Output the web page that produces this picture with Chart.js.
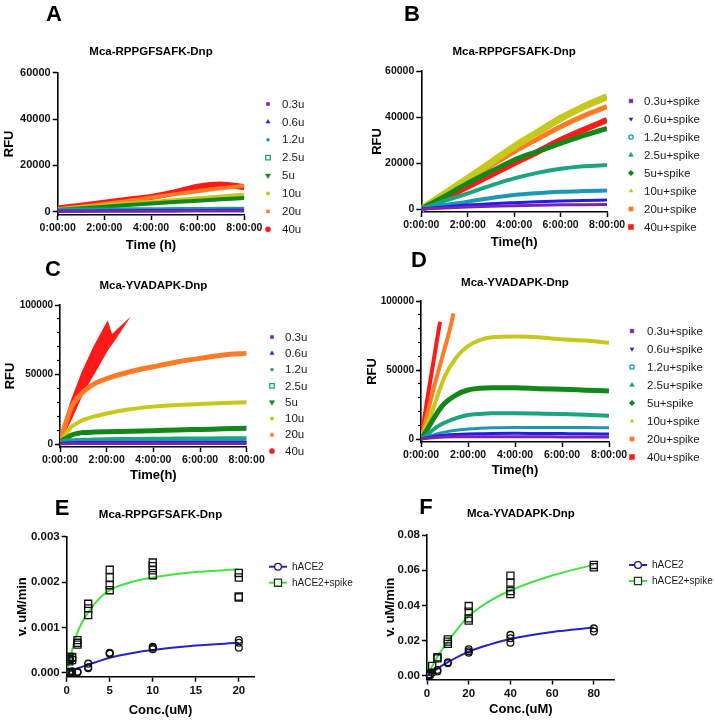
<!DOCTYPE html>
<html>
<head>
<meta charset="utf-8">
<script src="https://cdn.jsdelivr.net/npm/chart.js@4.4.1/dist/chart.umd.min.js"></script>
<style>
  html, body { margin: 0; padding: 0; background: #fff; }
  #fig { position: relative; width: 714px; height: 720px; overflow: hidden; font-family: "Liberation Sans", Arial, sans-serif; }
  #fig canvas { position: absolute; }
  .letter { position: absolute; font-weight: bold; font-size: 22px; line-height: 1; transform: translate(-50%, -50%); color: #000; }
</style>
</head>
<body>
<div id="fig">
  <canvas id="chartA" width="357" height="262" style="left:0;top:0"></canvas>
  <canvas id="chartB" width="357" height="262" style="left:357px;top:0"></canvas>
  <canvas id="chartC" width="357" height="250" style="left:0;top:240px"></canvas>
  <canvas id="chartD" width="357" height="250" style="left:357px;top:240px"></canvas>
  <canvas id="chartE" width="357" height="240" style="left:0;top:480px"></canvas>
  <canvas id="chartF" width="357" height="240" style="left:357px;top:480px"></canvas>
  <div class="letter" style="left:54px;top:14px">A</div>
  <div class="letter" style="left:412px;top:14px">B</div>
  <div class="letter" style="left:53px;top:269px">C</div>
  <div class="letter" style="left:419px;top:260px">D</div>
  <div class="letter" style="left:62px;top:508px">E</div>
  <div class="letter" style="left:426px;top:507px">F</div>
</div>
<script>
// ── Labels & ticks ──
const doseLabels  = ['0.3u', '0.6u', '1.2u', '2.5u', '5u', '10u', '20u', '40u'];
const spikeLabels = ['0.3u+spike', '0.6u+spike', '1.2u+spike', '2.5u+spike', '5u+spike', '10u+spike', '20u+spike', '40u+spike'];
const hourTicks   = [0, 2, 4, 6, 8];
const rfuTicksAB  = [0, 20000, 40000, 60000];
const rfuTicksCD  = [0, 50000, 100000];
const rfuMinorCD  = [0, 10000, 20000, 30000, 40000, 50000, 60000, 70000, 80000, 90000, 100000];
const concTicksE  = [0, 5, 10, 15, 20];
const rateTicksE  = [0, 0.001, 0.002, 0.003];
const concTicksF  = [0, 20, 40, 60, 80];
const rateTicksF  = [0, 0.02, 0.04, 0.06, 0.08];

// ── Panel A: Mca-RPPGFSAFK-Dnp, hACE2 alone (RFU vs hours) ──
const hoursAB = [0, 1, 2, 3, 4, 5, 6, 7, 8];
const rfuA03 = [100, 150, 200, 200, 250, 250, 300, 300, 300];
const rfuA06 = [300, 350, 400, 450, 500, 500, 550, 600, 600];
const rfuA12 = [600, 650, 700, 750, 800, 850, 900, 950, 1000];
const rfuA25 = [900, 950, 1000, 1050, 1100, 1150, 1200, 1250, 1300];
const rfuA5  = [800, 1500, 2200, 2900, 3600, 4200, 4800, 5400, 5900];
const rfuA10 = [900, 1700, 2500, 3300, 4000, 4800, 5600, 6400, 7100];
const rfuA20 = [1100, 2200, 3400, 4700, 6100, 7500, 8800, 10100, 11200];
const rfuA40 = [1400, 2600, 3900, 5200, 6400, 8300, 10800, 11800, 10600];

// ── Panel B: Mca-RPPGFSAFK-Dnp, hACE2 + spike ──
const rfuB03 = [0, 450, 870, 1150, 1450, 1650, 1800, 1900, 2000];
const rfuB06 = [0, 900, 1700, 2300, 2750, 3150, 3450, 3700, 3900];
const rfuB12 = [0, 1700, 3200, 4800, 6100, 6900, 7500, 7800, 8000];
const rfuB25 = [0, 3500, 6800, 10200, 13300, 15700, 17500, 18600, 19100];
const rfuB5  = [0, 5500, 11200, 16300, 21300, 25000, 28500, 32000, 35000];
const rfuB10 = [0, 6600, 13300, 20200, 27100, 33300, 39400, 44500, 48800];
const rfuB20 = [0, 6200, 12600, 18800, 24900, 30400, 35800, 40500, 44500];
const rfuB40 = [0, 4800, 9700, 14800, 19900, 24800, 30000, 34500, 38700];

// ── Panel C: Mca-YVADAPK-Dnp, hACE2 alone ──
const hoursC = [0, 0.25, 0.5, 0.75, 1, 1.5, 2, 3, 4, 5, 6, 7, 8];
const rfuC03 = [200, 250, 300, 300, 300, 300, 300, 300, 300, 300, 300, 300, 300];
const rfuC06 = [500, 800, 900, 1000, 1000, 1000, 1000, 1000, 1000, 1000, 1000, 1000, 1000];
const rfuC12 = [800, 1300, 1600, 1800, 1900, 2000, 2000, 2000, 2000, 2000, 2000, 2000, 2000];
const rfuC25 = [1500, 2300, 2700, 2900, 3000, 3200, 3400, 3600, 3800, 3900, 4000, 4100, 4100];
const rfuC5  = [1500, 4000, 6500, 7600, 8200, 8600, 8900, 9200, 9600, 10100, 10500, 10900, 11300];
const rfuC10 = [1500, 7000, 12500, 15200, 17300, 20000, 22000, 25000, 26900, 28000, 28800, 29500, 30000];
const rfuC20 = [2000, 15000, 27000, 33000, 37600, 43600, 47000, 52000, 55600, 59000, 61600, 64000, 65200];
// 40u spreads into a wedge: outline read round the red cloud
const hoursC40 = [0, 0.5, 1, 1.5, 2.03, 2.2, 2.69, 2.5, 2.3, 2, 1.5, 1, 0.5, 0];
const rfuC40   = [2500, 30000, 52000, 70000, 86300, 77200, 84900, 80000, 75000, 68000, 53000, 39000, 20000, 2500];

// ── Panel D: Mca-YVADAPK-Dnp, hACE2 + spike ──
const hoursD = [0, 0.25, 0.5, 0.75, 1, 1.5, 2, 2.5, 3, 4, 5, 6, 7, 8];
const rfuD03 = [0, 500, 900, 1200, 1500, 1700, 1700, 1700, 1700, 1600, 1600, 1500, 1500, 1450];
const rfuD06 = [0, 900, 1700, 2300, 2800, 3300, 3600, 3800, 4000, 4100, 4000, 3900, 3800, 3600];
const rfuD12 = [0, 1500, 2800, 4000, 5000, 6400, 7200, 7800, 8200, 8400, 8400, 8300, 8300, 8200];
const rfuD25 = [0, 3000, 6500, 9500, 11800, 15200, 17400, 18200, 18600, 18600, 18400, 18100, 17500, 16900];
const rfuD5  = [0, 6500, 13800, 20500, 25800, 32000, 35500, 36700, 37200, 37200, 36500, 36000, 35400, 34800];
const rfuD10 = [0, 10500, 21000, 33500, 45000, 59000, 67400, 71700, 73700, 74200, 73700, 72200, 71300, 69800];
const hoursD20 = [0, 0.25, 0.5, 0.75, 1, 1.25, 1.38];
const rfuD20   = [0, 17000, 34000, 50000, 65000, 81000, 91000];
const hoursD40 = [0, 0.25, 0.5, 0.81];
const rfuD40   = [0, 27000, 53000, 85000];

// ── Panel E: Mca-RPPGFSAFK-Dnp kinetics (v vs conc) ──
const concEh = [0.3125, 0.3125, 0.3125, 0.625, 0.625, 0.625, 1.25, 1.25, 1.25, 2.5, 2.5, 2.5, 5, 5, 5, 10, 10, 10, 20, 20, 20];
const rateEh = [0, 0.00002, 0.00001, 0.00001, 0.00003, 0.00002, 0.00001, 0.00002, 0.00001, 0.0002, 0.0001, 0.00012, 0.00043, 0.00042, 0.00044, 0.00057, 0.00055, 0.00052, 0.00072, 0.00066, 0.00055];
const concEs = [0.3125, 0.3125, 0.3125, 0.625, 0.625, 0.625, 1.25, 1.25, 1.25, 2.5, 2.5, 2.5, 5, 5, 5, 5, 10, 10, 10, 10, 20, 20, 20, 20];
const rateEs = [0.00035, 0.0003, 0.00025, 0.00035, 0.00033, 0.00028, 0.00072, 0.00066, 0.00062, 0.00152, 0.00142, 0.00127, 0.00227, 0.0021, 0.00193, 0.00182, 0.00243, 0.00235, 0.00226, 0.00215, 0.0022, 0.0021, 0.00168, 0.00166];
const fitConcE = [0, 0.5, 1, 1.5, 2.5, 3.5, 5, 7.5, 10, 15, 20];
const fitEh    = [0, 0.00004, 0.00008, 0.00011, 0.00018, 0.00024, 0.00033, 0.00043, 0.0005, 0.0006, 0.00066];
const fitEs    = [0, 0.0004, 0.00075, 0.001, 0.00133, 0.00158, 0.00182, 0.002, 0.0021, 0.00222, 0.00228];

// ── Panel F: Mca-YVADAPK-Dnp kinetics ──
const concFh = [0.625, 1.25, 2.5, 5, 5, 10, 10, 20, 20, 20, 40, 40, 40, 80, 80];
const rateFh = [0.0002, 0.0006, 0.0019, 0.0034, 0.0025, 0.0078, 0.0072, 0.0151, 0.0132, 0.014, 0.0233, 0.0214, 0.0189, 0.027, 0.0252];
const concFs = [0.625, 1.25, 2.5, 5, 5, 10, 10, 10, 20, 20, 20, 20, 40, 40, 40, 40, 80, 80];
const rateFs = [0.0003, 0.0011, 0.0057, 0.0106, 0.01, 0.0208, 0.0195, 0.0182, 0.0397, 0.0365, 0.0327, 0.0314, 0.0569, 0.053, 0.0482, 0.0465, 0.063, 0.0617];
const fitConcF = [0, 5, 10, 20, 30, 40, 60, 80];
const fitFh    = [0, 0.0042, 0.0078, 0.0138, 0.0178, 0.021, 0.025, 0.0275];
const fitFs    = [0, 0.011, 0.0195, 0.034, 0.0425, 0.0485, 0.057, 0.0632];

// ── Styles ──
const FONT = '"Liberation Sans", Arial, Helvetica, sans-serif';
const TITLE_SIZE = 11.5, AXIS_SIZE = 13;
const doseColors = ['#7b22b8', '#1f1fe6', '#1c97b4', '#1aa57f', '#14871b', '#c6c81c', '#ff7a26', '#ff1a1a'];
const widthsA  = [3, 3, 3, 4, 4, 5, 4, 6];
const widthsB  = [3, 3, 4, 4, 5, 7, 5, 6];
const widthsCD = [3, 3, 3, 4, 5, 4, 5, 3];
const markAC = [
  { style: 'rect', r: 2.2, fill: true },
  { style: 'triangle', r: 2.4, fill: true },
  { style: 'circle', r: 1.5, fill: true },
  { style: 'rect', r: 3.2, fill: false },
  { style: 'triangle', r: 3, rot: 180, fill: true },
  { style: 'circle', r: 1.8, fill: true },
  { style: 'rect', r: 2.2, fill: true },
  { style: 'circle', r: 2.6, fill: true },
];
const markBD = [
  { style: 'rect', r: 2.6, fill: true },
  { style: 'triangle', r: 2.2, rot: 180, fill: true },
  { style: 'circle', r: 2.2, fill: false },
  { style: 'triangle', r: 2.8, fill: true },
  { style: 'rectRot', r: 2.8, fill: true },
  { style: 'triangle', r: 2.2, fill: true },
  { style: 'rect', r: 3, fill: true },
  { style: 'rect', r: 3.6, fill: true },
];

// ── Legend drawn at the right of each panel ──
const sideLegend = {
  id: 'sideLegend',
  afterDraw(chart, args, o) {
    const ctx = chart.ctx;
    ctx.save();
    ctx.font = o.size + 'px ' + FONT;
    ctx.textBaseline = 'middle';
    ctx.textAlign = 'left';
    o.items.forEach((it, i) => {
      const y = o.y + i * o.gap;
      if (it.line) {
        ctx.strokeStyle = it.line;
        ctx.lineWidth = 2;
        ctx.beginPath(); ctx.moveTo(o.x - 9, y); ctx.lineTo(o.x + 9, y); ctx.stroke();
      }
      ctx.fillStyle = it.fill;
      ctx.strokeStyle = it.stroke;
      ctx.lineWidth = it.bw;
      Chart.helpers.drawPoint(ctx, { pointStyle: it.style, radius: it.r, rotation: it.rot || 0, borderWidth: it.bw }, o.x, y);
      ctx.fillStyle = '#1a1a1a';
      ctx.fillText(it.label, o.tx, y + 0.5);
    });
    ctx.restore();
  }
};

function doseItems(labels, marks) {
  return labels.map((label, i) => ({
    label, style: marks[i].style, r: marks[i].r, rot: marks[i].rot || 0,
    fill: marks[i].fill ? doseColors[i] : '#fff', stroke: doseColors[i], bw: marks[i].fill ? 0.5 : 1.3,
  }));
}

function trace(label, hours, rfu, i, width) {
  return {
    label, data: hours.map((h, k) => ({ x: h, y: rfu[k] })),
    borderColor: doseColors[i], backgroundColor: doseColors[i], borderWidth: width,
    pointRadius: 0, cubicInterpolationMode: 'monotone', fill: false, yAxisID: 'y',
  };
}

function pts(xs, ys) { return xs.map((x, k) => ({ x, y: ys[k] })); }

const hourFmt = v => v + ':00:00';

// ── Generic panel builder ──
function makeChart(id, geo, sc, datasets, legend) {
  const cv = geo.cv, area = geo.area;
  const tLH = TITLE_SIZE * 1.2, aLH = AXIS_SIZE * 1.2;
  const scales = {
    x: {
      type: 'linear', min: sc.xMin, max: sc.xMax,
      afterFit: s => { s.height = geo.xTitleY + aLH / 2 - area.b; },
      afterBuildTicks: s => { s.ticks = sc.xTicks.map(v => ({ value: v })); },
      ticks: { callback: sc.xFmt, font: { family: FONT, size: sc.tickX, weight: 'bold' }, color: '#111', padding: 2, maxRotation: 0, autoSkip: false },
      grid: { drawOnChartArea: false, tickLength: 5, color: '#000', tickWidth: 1.5 },
      border: { color: '#000', width: 1.6 },
      title: { display: true, text: sc.xTitle, color: '#000', font: { family: FONT, size: AXIS_SIZE, weight: 'bold' }, padding: { top: 0, bottom: 0 } },
    },
    y: {
      type: 'linear', min: sc.yMin, max: sc.yMax, weight: 1,
      afterFit: s => { s.width = area.l - cv.x; },
      afterBuildTicks: s => { s.ticks = sc.yTicks.map(v => ({ value: v })); },
      ticks: { callback: sc.yFmt, font: { family: FONT, size: sc.tickY, weight: 'bold' }, color: '#111', padding: 2 },
      grid: { drawOnChartArea: false, tickLength: 5, color: '#000', tickWidth: 1.5 },
      border: { color: '#000', width: 1.6 },
      title: { display: true, text: sc.yTitle, color: '#000', font: { family: FONT, size: AXIS_SIZE, weight: 'bold' }, padding: { top: geo.yTitleX - cv.x - aLH / 2, bottom: 0 } },
    },
  };
  if (sc.yMinor) {
    scales.yMinor = {
      type: 'linear', position: 'left', min: sc.yMin, max: sc.yMax, weight: 0,
      afterFit: s => { s.width = 0; },
      afterBuildTicks: s => { s.ticks = sc.yMinor.map(v => ({ value: v })); },
      ticks: { display: false },
      grid: { drawOnChartArea: false, tickLength: 3, color: '#000', tickWidth: 1.2 },
      border: { display: false },
    };
  }
  return new Chart(document.getElementById(id), {
    type: 'line',
    data: { datasets },
    plugins: [sideLegend],
    options: {
      responsive: false,
      animation: false,
      devicePixelRatio: 1,
      layout: { padding: { left: 0, top: 0, right: cv.x + cv.w - area.r, bottom: cv.y + cv.h - (geo.xTitleY + aLH / 2) } },
      scales,
      plugins: {
        legend: { display: false },
        tooltip: { enabled: false },
        title: {
          display: true, text: sc.title, fullSize: false, color: '#000',
          font: { family: FONT, size: TITLE_SIZE, weight: 'bold' },
          padding: { top: geo.titleY - cv.y - tLH / 2, bottom: area.t - geo.titleY - tLH / 2 },
        },
        sideLegend: {
          x: legend.x - cv.x, tx: legend.tx - cv.x, y: legend.y - cv.y, gap: legend.gap,
          size: legend.size || 11.5, items: legend.items,
        },
      },
    },
  });
}

// ── A ──
makeChart('chartA',
  { cv: { x: 0, y: 0, w: 357, h: 262 }, area: { l: 57.7, r: 244.3, t: 72.7, b: 215 }, titleY: 52, yTitleX: 9, xTitleY: 245 },
  { title: 'Mca-RPPGFSAFK-Dnp', xTitle: 'Time (h)', yTitle: 'RFU', xMin: 0, xMax: 8, yMin: -1400, yMax: 60000,
    xTicks: hourTicks, yTicks: rfuTicksAB, xFmt: hourFmt, yFmt: v => v, tickX: 10.5, tickY: 11 },
  [rfuA03, rfuA06, rfuA12, rfuA25, rfuA5, rfuA10, rfuA20, rfuA40].map((s, i) => trace(doseLabels[i], hoursAB, s, i, widthsA[i])),
  { x: 268, tx: 282, y: 104, gap: 17.9, items: doseItems(doseLabels, markAC) });

// ── B ──
makeChart('chartB',
  { cv: { x: 357, y: 0, w: 357, h: 262 }, area: { l: 421.3, r: 607, t: 71, b: 212 }, titleY: 52, yTitleX: 377, xTitleY: 242 },
  { title: 'Mca-RPPGFSAFK-Dnp', xTitle: 'Time(h)', yTitle: 'RFU', xMin: 0, xMax: 8, yMin: -1300, yMax: 60000,
    xTicks: hourTicks, yTicks: rfuTicksAB, xFmt: hourFmt, yFmt: v => v, tickX: 10.5, tickY: 10.5 },
  [rfuB03, rfuB06, rfuB12, rfuB25, rfuB5, rfuB10, rfuB20, rfuB40].map((s, i) => trace(spikeLabels[i], hoursAB, s, i, widthsB[i])),
  { x: 631, tx: 644, y: 101, gap: 18, items: doseItems(spikeLabels, markBD) });

// ── C ──
const dsC = [rfuC03, rfuC06, rfuC12, rfuC25, rfuC5, rfuC10, rfuC20].map((s, i) => trace(doseLabels[i], hoursC, s, i, widthsCD[i]));
dsC.push({
  label: doseLabels[7], data: pts(hoursC40, rfuC40), borderColor: doseColors[7], backgroundColor: doseColors[7],
  borderWidth: widthsCD[7], pointRadius: 0, tension: 0, fill: 'shape', yAxisID: 'y',
});
makeChart('chartC',
  { cv: { x: 0, y: 240, w: 357, h: 250 }, area: { l: 60, r: 246.7, t: 305, b: 447 }, titleY: 285.7, yTitleX: 10, xTitleY: 475 },
  { title: 'Mca-YVADAPK-Dnp', xTitle: 'Time(h)', yTitle: 'RFU', xMin: 0, xMax: 8, yMin: -2150, yMax: 100000,
    xTicks: hourTicks, yTicks: rfuTicksCD, yMinor: rfuMinorCD, xFmt: hourFmt, yFmt: v => v, tickX: 10.5, tickY: 10 },
  dsC,
  { x: 272, tx: 285, y: 337, gap: 16.3, items: doseItems(doseLabels, markAC) });

// ── D ──
const dsD = [rfuD03, rfuD06, rfuD12, rfuD25, rfuD5, rfuD10].map((s, i) => trace(spikeLabels[i], hoursD, s, i, widthsCD[i]));
dsD.push(trace(spikeLabels[6], hoursD20, rfuD20, 6, 4));
dsD.push(trace(spikeLabels[7], hoursD40, rfuD40, 7, 4));
makeChart('chartD',
  { cv: { x: 357, y: 240, w: 357, h: 250 }, area: { l: 421, r: 609, t: 301, b: 442 }, titleY: 283, yTitleX: 372, xTitleY: 470 },
  { title: 'Mca-YVADAPK-Dnp', xTitle: 'Time(h)', yTitle: 'RFU', xMin: 0, xMax: 8, yMin: -2170, yMax: 100000,
    xTicks: hourTicks, yTicks: rfuTicksCD, yMinor: rfuMinorCD, xFmt: hourFmt, yFmt: v => v, tickX: 10.5, tickY: 10 },
  dsD,
  { x: 632, tx: 647, y: 331, gap: 18, items: doseItems(spikeLabels, markBD) });

// ── E & F kinetics ──
const BLUE = '#2323c8', GREEN = '#3ee63e';
function kinetics(concH, rateH, concS, rateS, fitX, fitH, fitS) {
  const dot = { showLine: false, pointBorderColor: '#111', pointBackgroundColor: 'rgba(0,0,0,0)', pointBorderWidth: 1.3, yAxisID: 'y' };
  const fit = { pointRadius: 0, borderWidth: 2, cubicInterpolationMode: 'monotone', fill: false, yAxisID: 'y' };
  return [
    { ...dot, label: 'hACE2', data: pts(concH, rateH), pointStyle: 'circle', pointRadius: 3.4 },
    { ...dot, label: 'hACE2+spike', data: pts(concS, rateS), pointStyle: 'rect', pointRadius: 5 },
    { ...fit, label: 'hACE2 fit', data: pts(fitX, fitH), borderColor: BLUE },
    { ...fit, label: 'hACE2+spike fit', data: pts(fitX, fitS), borderColor: GREEN },
  ];
}
const kinItems = [
  { label: 'hACE2', style: 'circle', r: 3.4, fill: '#fff', stroke: '#1a1a4a', bw: 1.3, line: BLUE },
  { label: 'hACE2+spike', style: 'rect', r: 5, fill: '#fff', stroke: '#1a3a1a', bw: 1.3, line: GREEN },
];

makeChart('chartE',
  { cv: { x: 0, y: 480, w: 357, h: 240 }, area: { l: 66.7, r: 254.3, t: 536.7, b: 676.7 }, titleY: 515, yTitleX: 22.7, xTitleY: 710 },
  { title: 'Mca-RPPGFSAFK-Dnp', xTitle: 'Conc.(uM)', yTitle: 'v. uM/min', xMin: 0, xMax: 21.8, yMin: -0.000088, yMax: 0.003,
    xTicks: concTicksE, yTicks: rateTicksE, xFmt: v => v, yFmt: v => v.toFixed(3), tickX: 11.5, tickY: 11.5 },
  kinetics(concEh, rateEh, concEs, rateEs, fitConcE, fitEh, fitEs),
  { x: 278, tx: 292, y: 566.7, gap: 16, size: 10, items: kinItems });

makeChart('chartF',
  { cv: { x: 357, y: 480, w: 357, h: 240 }, area: { l: 427, r: 614.7, t: 535, b: 679.5 }, titleY: 514, yTitleX: 390, xTitleY: 709 },
  { title: 'Mca-YVADAPK-Dnp', xTitle: 'Conc.(uM)', yTitle: 'v. uM/min', xMin: 0, xMax: 90, yMin: -0.002, yMax: 0.08,
    xTicks: concTicksF, yTicks: rateTicksF, xFmt: v => v, yFmt: v => v.toFixed(2), tickX: 11.5, tickY: 11.5 },
  kinetics(concFh, rateFh, concFs, rateFs, fitConcF, fitFh, fitFs),
  { x: 638, tx: 652, y: 565, gap: 16, size: 10, items: kinItems });
</script>
</body>
</html>
